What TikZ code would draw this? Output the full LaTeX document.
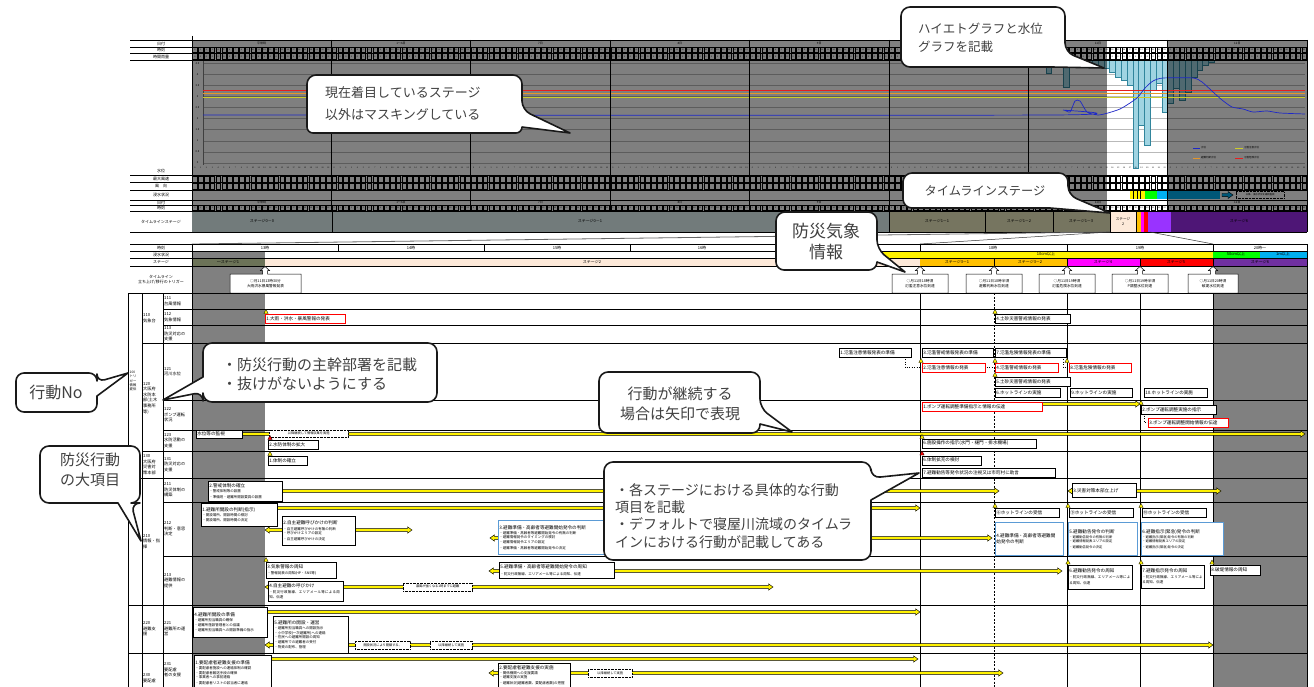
\documentclass[tikz,border=0pt]{standalone}
\usepackage{fontspec}
\setmainfont{Noto Sans CJK JP}
\usetikzlibrary{shadows}
\XeTeXlinebreaklocale "ja"
\XeTeXlinebreakskip=0pt plus 1pt
\definecolor{txt}{RGB}{64,64,64}
\definecolor{mgray}{RGB}{128,128,128}
\definecolor{stz}{RGB}{114,123,123}
\definecolor{sto}{RGB}{118,117,96}
\definecolor{peach}{RGB}{253,233,217}
\definecolor{sorange}{RGB}{255,192,0}
\definecolor{smag}{RGB}{255,0,255}
\definecolor{sred}{RGB}{255,0,0}
\definecolor{spurple}{RGB}{112,48,160}
\definecolor{sviolet}{RGB}{153,51,255}
\definecolor{sdark}{RGB}{78,22,118}
\definecolor{olive1}{RGB}{108,115,88}
\definecolor{scyan}{RGB}{0,176,240}
\definecolor{sgreen}{RGB}{0,255,0}
\definecolor{barfill}{RGB}{160,212,226}
\definecolor{barline}{RGB}{49,133,156}
\definecolor{bbord}{RGB}{91,155,213}
\definecolor{wlev}{RGB}{30,40,200}
\definecolor{lred}{RGB}{230,30,30}
\definecolor{lorange}{RGB}{230,150,40}
\definecolor{lyellow}{RGB}{205,205,40}
\newcommand{\fsz}[2]{\fontsize{#1}{#2}\selectfont}
\newcommand{\tri}[3]{\filldraw[fill=#3,draw=black,line width=0.3pt] (#1-2.2,#2) -- (#1+2.2,#2) -- (#1,#2-4) -- cycle;}
\newcommand{\yar}[3]{\filldraw[fill=yellow,draw=black,line width=0.45pt] (#1,#3-1.3) -- (#2-4.5,#3-1.3) -- (#2-4.5,#3-3.2) -- (#2,#3) -- (#2-4.5,#3+3.2) -- (#2-4.5,#3+1.3) -- (#1,#3+1.3) -- cycle;}
\newcommand{\ydar}[3]{\filldraw[fill=yellow,draw=black,line width=0.45pt] (#1,#3) -- (#1+4.5,#3-3.2) -- (#1+4.5,#3-1.3) -- (#2-4.5,#3-1.3) -- (#2-4.5,#3-3.2) -- (#2,#3) -- (#2-4.5,#3+3.2) -- (#2-4.5,#3+1.3) -- (#1+4.5,#3+1.3) -- (#1+4.5,#3+3.2) -- cycle;}
\newcommand{\actbox}[7][]{\pgfmathsetmacro{\abtw}{#5-2}\node[abox,#1,text width=\abtw pt,minimum height=#6pt] (#2) at (#3,#4) {#7};}
\newcommand{\dbx}[6]{\node[dbox,minimum width=#4pt,minimum height=#5pt] (#1) at (#2,#3) {#6};}
\newcommand{\trg}[6]{\draw[trig] (#2,274) -- (#4-2.5,274) -- (#4-2.5,270.5) -- (#4-4.5,270.5) -- (#4,266.5) -- (#4+4.5,270.5) -- (#4+2.5,270.5) -- (#4+2.5,274) -- (#3,274) -- (#3,293) -- (#2,293) -- cycle;
\node[font=\fsz{3.7}{5},align=center,inner sep=0pt] (#1) at ({(#2+#3)/2},283.5) {#5\\#6};}
\tikzset{
 abox/.style={draw=black,fill=white,line width=0.5pt,anchor=north west,align=left,inner xsep=1pt,inner ysep=0.5pt,font=\fsz{4.6}{5.6},text=black,drop shadow={shadow xshift=0.6pt,shadow yshift=-0.6pt,fill=black!50,opacity=1}},
 rbox/.style={draw=red,line width=0.6pt},
 blbox/.style={draw=bbord,line width=0.8pt},
 dbox/.style={draw=black,dash pattern=on 0.8pt off 0.6pt,fill=white,line width=0.4pt,anchor=north west,inner sep=0.5pt,font=\fsz{3.2}{3.6}},
 lab/.style={anchor=west,align=left,inner sep=0pt,font=\fsz{4.2}{5.6},text=black},
 hl/.style={font=\fsz{4}{4.6},inner sep=0pt,text=black},
 dig/.style={font=\fsz{2}{2},inner sep=0pt,text=black},
 callout/.style={draw=black!90,fill=white,line width=1.6pt,line join=round},
 ctext/.style={text=txt,align=left,inner sep=0pt},
 trig/.style={draw=black,fill=white,line width=0.5pt},
}
\begin{document}
\begin{tikzpicture}[x=1pt,y=-1pt]
\useasboundingbox (0,0) rectangle (1314,687);
\fill[white] (0,0) rectangle (1314,687);
% ================= upper chart =================
\fill[white] (192,40) rectangle (1307,211);
\foreach \k in {0,...,9} \draw[gray!55,line width=0.5pt] (203,163-\k*11.1) -- (1305,163-\k*11.1);
\draw[gray,line width=0.4pt] (203,60) -- (203,165);
\foreach \k/\v in {0/0,1/0.5,2/1,3/1.5,4/2,5/2.5,6/3,7/3.5,8/4,9/4.5} \node[dig,font=\fsz{2.6}{3}] at (197.5,163-\k*11.1) {\v};
% hyetograph bars
\foreach \h/\b in {3/73,5/65,6/87,7/62,9/62,10/63,11/65,12/67,13/68,14/72,15/77,16/80,17/85,18/168,19/125,20/145,21/90,22/83,23/112}
  \filldraw[fill=barfill,draw=barline,line width=0.3pt] (1028.25+\h*5.807,60) rectangle ++(5.807,\b-60);
\foreach \h/\b in {0/103,1/88,2/100,3/92,4/77,5/70,6/65,7/62}
  \filldraw[fill=barfill,draw=barline,line width=0.3pt] (1167.63+\h*5.807,60) rectangle ++(5.807,\b-60);
% header cells
\foreach \i in {0,...,191}{
  \pgfmathsetmacro{\xa}{192+\i*5.80729}
  \pgfmathtruncatemacro{\hh}{mod(\i,24)}
  \draw[line width=0.25pt] (\xa+0.6,47.6) rectangle (\xa+5.2,52.6);
  \node[dig] at (\xa+2.9,50.1) {\hh};
  \draw[line width=0.25pt] (\xa+0.6,53.6) rectangle (\xa+5.2,59.4);
  \node[dig] at (\xa+2.9,56.5) {0};
  \draw[line width=0.25pt] (\xa+0.6,175.8) rectangle (\xa+5.2,182);
  \draw[line width=0.25pt] (\xa+0.6,183.2) rectangle (\xa+5.2,189.4);
  \draw[line width=0.25pt] (\xa+0.6,205.6) rectangle (\xa+5.2,210.5);
  \node[dig] at (\xa+2.9,208) {\hh};
  \node[dig] at (\xa+2.9,168) {\hh};
}
\foreach \d/\t in {0/平常時,1/1〜6日,2/7日,3/8日,4/9日,5/10日,6/11日,7/12日}{
  \node[dig,font=\fsz{3}{3}] at (192+\d*139.375+69.7,43.5) {\t};
  \node[dig,font=\fsz{3}{3}] at (192+\d*139.375+69.7,202.5) {\t};
}
% flood status row (top)
\fill[yellow] (1130,190.5) rectangle (1145,199.5);
\foreach \xs in {1133.5,1137,1140.5} \draw[line width=0.3pt] (\xs,190.5) -- (\xs,199.5);
\fill[sgreen] (1145,190.5) rectangle (1157,199.5);
\fill[scyan] (1157,190.5) rectangle (1220,199.5);
\draw[fill=scyan,line width=0.4pt] (1222,193.3) -- (1228,193.3) -- (1228,191.5) -- (1233,195) -- (1228,198.5) -- (1228,196.7) -- (1222,196.7) -- cycle;
\dbx{dtop}{1236}{191.5}{48}{6.5}{\fsz{2.4}{2.6}以降、浸水状況を継続監視}
% mask
\fill[black,opacity=0.5] (192,40) rectangle (1107,211);
\fill[black,opacity=0.5] (1168,40) rectangle (1307,211);
% level lines
\draw[lred,line width=0.7pt] (203,90) -- (1305,90);
\draw[lorange,line width=0.7pt] (203,93) -- (1305,93);
\draw[lyellow,line width=0.7pt] (203,97) -- (1305,97);
\draw[wlev,line width=0.7pt] plot[smooth,tension=0.4] coordinates {(203,115) (1052,115) (1063,110) (1070,112) (1075,101) (1080,101) (1087,112) (1098,115) (1108,113) (1120,109) (1130,103) (1138,97) (1145,88) (1153,81) (1163,78) (1193,78) (1202,82) (1213,92) (1222,100) (1232,107) (1243,109) (1253,112) (1267,111) (1280,113) (1305,114)};
% legend
\draw[wlev,line width=0.6pt] (1193,148) -- (1200,148); \node[dig,font=\fsz{2.5}{3},anchor=west] at (1201,148) {水位};
\draw[lyellow,line width=0.6pt] (1235,148) -- (1243,148); \node[dig,font=\fsz{2.5}{3},anchor=west] at (1244,148) {氾濫注意水位};
\draw[lorange,line width=0.6pt] (1193,158) -- (1200,158); \node[dig,font=\fsz{2.5}{3},anchor=west] at (1201,158) {避難判断水位};
\draw[lred,line width=0.6pt] (1235,158) -- (1243,158); \node[dig,font=\fsz{2.5}{3},anchor=west] at (1244,158) {氾濫危険水位};
% day lines and row lines
\foreach \d in {1,...,7} \draw[line width=0.6pt] (192+\d*139.375,40) -- (192+\d*139.375,211);
\foreach \yy in {40,47,53,60,175,182.5,190,200,205,211,232} \draw[line width=0.6pt] (130,\yy) -- (1307,\yy);
\draw[line width=0.6pt] (192,36) -- (192,232);
\draw[line width=0.6pt] (1307,40) -- (1307,232);
% left labels upper
\node[hl] at (161,43.5) {日付};
\node[hl] at (161,50) {時刻};
\node[hl] at (161,56.5) {時間雨量};
\node[hl] at (161,171) {水位};
\node[hl] at (161,178.7) {最大風速};
\node[hl] at (161,186.2) {風　向};
\node[hl] at (161,195) {浸水状況};
\node[hl] at (161,202.5) {日付};
\node[hl] at (161,208) {時刻};
\node[hl] at (161,221.5) {タイムラインステージ};
% timeline stage row
\fill[stz] (192,211.3) rectangle (889,232);
\fill[sto] (889,211.3) rectangle (1110,232);
\fill[peach] (1110,211.3) rectangle (1136,232);
\fill[sorange] (1136,211.3) rectangle (1141,232);
\fill[smag] (1141,211.3) rectangle (1144,232);
\fill[sred] (1144,211.3) rectangle (1148,232);
\fill[sviolet] (1148,211.3) rectangle (1171,232);
\fill[sdark] (1171,211.3) rectangle (1307,232);
\foreach \xs in {332,889,985,1053,1110,1136} \draw[line width=0.5pt] (\xs,211) -- (\xs,232);
\draw[line width=0.6pt] (130,211) -- (1307,211) (130,232) -- (1307,232);
\node[hl] at (262,221.5) {ステージ0－0};
\node[hl] at (590,221.5) {ステージ0－1};
\node[hl] at (937,221.5) {ステージ1－1};
\node[hl] at (1019,221.5) {ステージ1－2};
\node[hl] at (1081,221.5) {ステージ1－3};
\node[hl,align=center,font=\fsz{3.6}{4.4}] at (1123,221.5) {ステージ\\2};
\node[hl] at (1239,221.5) {ステージ6};
% zoom lines
\draw[black!60,line width=0.8pt] (1110,232) -- (192,244);
\draw[black!80,line width=0.5pt] (1110,232) -- (920,244);
\draw[black!80,line width=0.5pt] (1150,232) -- (1213,244);
% ================= lower header =================
\fill[mgray] (192,251) rectangle (265,258);
\fill[yellow] (880,251) rectangle (1213,258);
\fill[sgreen] (1213,251) rectangle (1260,258);
\fill[scyan] (1260,251) rectangle (1307,258);
\fill[olive1] (192,258) rectangle (265,266);
\fill[peach] (265,258) rectangle (920,266);
\fill[sorange] (920,258) rectangle (1067,266);
\fill[smag] (1067,258) rectangle (1140,266);
\fill[sred] (1140,258) rectangle (1213,266);
\fill[spurple] (1213,258) rectangle (1307,266);
\fill[mgray] (192,266) rectangle (265,687);
\fill[mgray] (1213,266) rectangle (1307,687);
\foreach \yy in {244,251,258,266} \draw[line width=0.6pt] (130,\yy) -- (1307,\yy);
\foreach \xs in {338,484,630,775,920,1067,1213} \draw[line width=0.5pt] (\xs,244) -- (\xs,251);
\foreach \xs in {994,1067,1140,1213} \draw[line width=0.4pt] (\xs,258) -- (\xs,266);
\draw[line width=0.6pt] (192,244) -- (192,687);
\draw[line width=0.6pt] (1307,244) -- (1307,687);
\node[hl] at (161,247.5) {時刻};
\node[hl] at (161,254.5) {浸水状況};
\node[hl] at (161,262) {ステージ};
\node[hl,align=center] at (161,279.5) {タイムライン\\立ち上げ/移行のトリガー};
\node[hl] at (265,247.5) {13時};
\node[hl] at (411,247.5) {14時};
\node[hl] at (557,247.5) {15時};
\node[hl] at (702,247.5) {16時};
\node[hl] at (848,247.5) {17時};
\node[hl] at (993,247.5) {18時};
\node[hl] at (1140,247.5) {19時};
\node[hl] at (1260,247.5) {20時〜};
\node[hl] at (1046,254.5) {10cm以上};
\node[hl] at (1236,254.5) {50cm以上};
\node[hl] at (1283,254.5) {1m以上};
\node[hl] at (228,262) {〜ステージ1};
\node[hl] at (592,262) {ステージ2};
\node[hl] at (957,262) {ステージ3－1};
\node[hl] at (1030,262) {ステージ3－2};
\node[hl] at (1103,262) {ステージ4};
\node[hl] at (1176,262) {ステージ5};
\node[hl] at (1260,262) {ステージ6};
% triggers
\trg{tg1}{230}{301}{265}{○月11日13時30分}{大雨洪水暴風警報発表}
\trg{tg2}{892}{948}{920}{○月11日18時頃}{氾濫注意水位到達}
\trg{tg3}{966}{1022}{994}{○月11日18時半頃}{避難判断水位到達}
\trg{tg4}{1039}{1095}{1067}{○月11日19時頃}{氾濫危険水位到達}
\trg{tg5}{1112}{1168}{1140}{○月11日19時半頃}{P調整水位到達}
\trg{tg6}{1188}{1238}{1213}{○月11日20時頃}{破堤水位到達}
% ================= lower table lines =================
\draw[line width=0.7pt] (128,293) -- (1307,293);
\foreach \yy in {309,325,400,430,502,556} \draw[line width=0.7pt] (163,\yy) -- (1307,\yy);
\foreach \yy in {343,451} \draw[line width=0.7pt] (142,\yy) -- (1307,\yy);
\foreach \yy in {478,605,653} \draw[line width=0.7pt] (128,\yy) -- (1307,\yy);
\foreach \xs in {128,142,163} \draw[line width=0.7pt] (\xs,293) -- (\xs,687);
\foreach \xs in {920,1067,1140,1213} \draw[line width=0.6pt] (\xs,293) -- (\xs,687);
\draw[line width=0.4pt,dash pattern=on 2pt off 1.5pt] (994,293) -- (994,687);
% row labels
\node[lab,font=\fsz{3.3}{4.2}] at (129.5,381) {100\\トリ\\ガー\\情報\\提供};
\node[lab] at (143,318) {110\\気象台};
\node[lab] at (143,398) {120\\大阪府\\水防本\\部(土木\\事務所\\等)};
\node[lab] at (143,464.5) {130\\大阪府\\災害対\\策本部};
\node[lab] at (143,541.5) {210\\情報・指\\揮};
\node[lab] at (143,629) {220\\避難支\\援};
\node[lab] at (143,678) {230\\要配慮};
\node[lab] at (164,301) {111\\台風情報};
\node[lab] at (164,317) {112\\気象情報};
\node[lab] at (164,334) {113\\防災対応の\\支援};
\node[lab] at (164,371.5) {121\\河川水位};
\node[lab] at (164,415) {122\\ポンプ運転\\状況};
\node[lab] at (164,440.5) {123\\水防活動の\\支援};
\node[lab] at (164,464.5) {131\\防災対応の\\支援};
\node[lab] at (164,490) {211\\防災体制の\\構築};
\node[lab] at (164,529) {212\\判断・意思\\決定};
\node[lab] at (164,580.5) {213\\避難情報の\\提供};
\node[lab] at (164,629) {221\\避難所の運\\営};
\node[lab] at (164,670) {231\\要配慮\\者の支援};
% ================= actions =================
% 112
\tri{266}{313.5}{yellow}
\actbox[rbox]{a112a}{265}{314}{80}{9}{1.大雨・洪水・暴風警報の発表}
\tri{995}{313.5}{yellow}
\actbox{a112b}{995}{314}{75}{9}{4.土砂災害警戒情報の発表}
% 121
\draw[dotted,line width=0.5pt] (905,356.5) -- (905,367.5) -- (922,367.5);
\draw[dotted,line width=0.5pt] (984,367.5) -- (995,367.5);
\draw[dotted,line width=0.5pt] (1063,356.5) -- (1063,367.5) -- (1069,367.5);
\actbox{a121a}{839}{348}{72}{8.5}{1.氾濫注意情報発表の準備}
\actbox{a121c}{922}{348}{71}{8.5}{3.氾濫警戒情報発表の準備}
\actbox{a121g}{995}{348}{71}{8.5}{7.氾濫危険情報発表の準備}
\tri{921}{362.5}{yellow}
\tri{995}{362.5}{yellow}
\tri{1067}{362.5}{yellow}
\actbox[rbox]{a121b}{922}{363}{63}{9}{2.氾濫注意情報の発表}
\actbox[rbox]{a121d}{995}{363}{63}{9}{4.氾濫警戒情報の発表}
\actbox[rbox]{a121h}{1069}{363}{62}{9}{8.氾濫危険情報の発表}
\tri{995}{376.5}{yellow}
\actbox{a121e}{995}{377}{75}{8.5}{5.土砂災害警戒情報の発表}
\actbox{a121f}{995}{388}{65}{8.5}{6.ホットラインの実施}
\actbox{a121i}{1070}{388}{62}{8.5}{9.ホットラインの実施}
\actbox{a121j}{1144}{388}{63}{8.5}{10.ホットラインの実施}
% 122
\yar{1042}{1140}{404}
\draw[dotted,line width=0.5pt] (1144,413) -- (1144,422) -- (1148,422);
\actbox[rbox]{a122a}{922}{402}{120}{9}{1.ポンプ運転調整準備指示と情報の伝達}
\tri{1141}{404.5}{yellow}
\actbox{a122b}{1141}{405}{75}{8.5}{2.ポンプ運転調整実施の指示}
\actbox[rbox]{a122c}{1148}{417.5}{80}{9}{3.ポンプ運転調整開始情報の伝達}
% 123
\yar{242}{1305}{434}
\actbox{a123a}{196}{429.5}{46}{8.5}{水位等の監視}
\dbx{d123}{269}{430}{79}{7}{以降継続して情報収集を実施}
\tri{270}{439.5}{red}
\actbox{a123b}{268}{440}{50}{8.5}{2.水防体制の拡大}
\tri{922}{438.5}{yellow}
\actbox{a123c}{922}{439}{114}{8.5}{6.施設操作の指示(水門・樋門・排水機場)}
% 131
\tri{270}{455.5}{yellow}
\actbox{a131a}{268}{456}{39}{8.5}{1.体制の確立}
\tri{922}{455}{red}
\actbox{a131b}{922}{455.5}{59}{9}{6.体制拡充の検討}
\actbox{a131c}{922}{468}{133}{8.5}{7.避難勧告等発令状況の注視又は市町村に助言}
% 211
\yar{282}{999}{491}
\actbox{a211a}{208}{481}{74}{20}{2.警戒体制の確立\\[0.6pt]\fsz{3.5}{4.5}・警戒体制等の設置\\・準備班・避難所開設要員の設置}
\ydar{1068}{1221}{491}
\actbox{a211b}{1072}{483}{64}{14}{3.災害対策本部立上げ}
% 212
\yar{277}{920}{508}
\ydar{265}{412}{530}
\ydar{490}{992}{538}
\actbox{a212a}{201}{503}{76}{23}{1.避難所開設の判断(指示)\\[0.6pt]\fsz{3.5}{4.5}・開設場所、開設時間の検討\\・開設場所、開設時間の決定}
\actbox{a212b}{282}{516}{73}{29}{2.自主避難呼びかけの判断\\[0.6pt]\fsz{3.5}{4.5}・自主避難呼びかけの有無の判断\\・呼びかけエリアの設定\\・自主避難呼びかけの決定}
\actbox[blbox]{a212c}{498}{520}{110}{34}{3.避難準備・高齢者等避難開始発令の判断\\[0.6pt]\fsz{3.5}{4.5}・避難準備・高齢者等避難開始発令の有無の判断\\・避難情報発令のタイミングの検討\\・避難情報発令エリアの設定\\・避難準備・高齢者等避難開始発令の決定}
\tri{995}{507.5}{yellow}
\tri{1068}{507.5}{yellow}
\tri{1141}{507.5}{yellow}
\actbox{a212d}{995}{508}{64}{9}{⑥ホットラインの受信}
\actbox{a212e}{1069}{508}{64}{9}{⑨ホットラインの受信}
\actbox{a212f}{1142}{508}{64}{9}{⑩ホットラインの受信}
\actbox[blbox]{a212g}{995}{522}{68}{33}{4.避難準備・高齢者等避難開\\始発令の判断}
\actbox[blbox]{a212h}{1068}{522}{69}{33}{5.避難勧告発令の判断\\[0.6pt]\fsz{3.3}{4.4}・避難勧告発令の有無の判断\\・避難情報発表エリアの設定\\・避難勧告発令の決定}
\actbox[blbox]{a212i}{1141}{522}{82}{33}{6.避難指示(緊急)発令の判断\\[0.6pt]\fsz{3.3}{4.4}・避難指示(緊急)発令の有無の判断\\・避難情報発表エリアの設定\\・避難指示(緊急)発令の決定}
% 213
\ydar{265}{773}{587}
\ydar{489}{1062}{571}
\tri{266}{561.5}{yellow}
\actbox{a213a}{266}{562}{70}{16}{3.気象警報の周知\\[0.6pt]\fsz{3.5}{4.5}・警報発表の周知(HP・SNS等)}
\actbox{a213b}{268}{581}{75}{20}{4.自主避難の呼びかけ\\[0.6pt]\fsz{3.5}{4.5}・防災行政無線、エリアメール等による周知、伝達}
\dbx{d213}{403}{582.5}{69}{8}{暴風が強くなる1時までに避難}
\actbox{a213c}{499}{562}{115}{16}{5.避難準備・高齢者等避難開始発令の周知\\[0.6pt]\fsz{3.5}{4.5}・防災行政無線、エリアメール等による周知、伝達}
\tri{1068}{564}{yellow}
\tri{1141}{564}{yellow}
\tri{1212}{564}{yellow}
\actbox{a213d}{1068}{564.5}{64}{24}{6.避難勧告発令の周知\\[0.6pt]\fsz{3.5}{4.5}・防災行政無線、エリアメール等による周知、伝達}
\actbox{a213e}{1141}{564.5}{63}{23}{7.避難指示発令の周知\\[0.6pt]\fsz{3.5}{4.5}・防災行政無線、エリアメール等による周知、伝達}
\actbox{a213f}{1210}{564.5}{50}{10}{8.破堤情報の周知}
% 221
\yar{267}{920}{612}
\ydar{265}{1213}{645}
\actbox{a221a}{193}{607}{74}{30}{4.避難所開設の準備\\[0.6pt]\fsz{3.5}{4.5}・避難所担当職員の確保\\・避難所施設管理者との協議\\・避難所担当職員への開設準備の指示}
\actbox{a221b}{273}{616}{75}{37}{5.避難所の開設・運営\\[0.6pt]\fsz{3.5}{4.5}・避難所担当職員への開設指示\\・小中学校(一次避難所)への連絡\\・住民への避難所開設の周知\\・避難所での避難者の受付\\・物資の配布、管理}
\dbx{d221a}{355}{641}{55}{8}{開設状況により閉鎖する。}
\dbx{d221b}{430}{641}{42}{8}{以降継続して実施}
% 231
\yar{271}{918}{659}
\ydar{489}{1003}{673}
\actbox{a231a}{194}{655}{77}{35}{1.要配慮者避難支援の準備\\[0.6pt]\fsz{3.5}{4.5}・要配慮者施設への連絡体制の確認\\・要配慮者輸送手段の確保\\・事業者への事前連絡\\・要配慮者リストの該当者に連絡}
\actbox{a231b}{498}{663}{72}{24}{2.要配慮者避難支援の実施\\[0.6pt]\fsz{3.5}{4.5}・関係機関への支援要請\\・避難支援の実施\\・避難状況(避難者数、要配慮者数)の把握}
\dbx{d231}{588}{669}{44}{8}{以降継続して実施}
% ================= callouts =================
\draw[callout] (307,104) [rounded corners=9pt] -- (307,75) -- (522,75) -- (522,110) [sharp corners] -- (570,133) -- (522,127) [rounded corners=6pt] -- (522,133) -- (307,133) -- cycle;
\node[ctext,anchor=west,font=\fsz{13}{22}] (c1) at (325,104) {現在着目しているステージ\\以外はマスキングしている};
\draw[callout] (901,37) [rounded corners=9pt] -- (901,7) -- (1065,7) -- (1065,52) [sharp corners] -- (1104,68) -- (1052,67) [rounded corners=9pt] -- (901,67) -- cycle;
\node[ctext,anchor=west,font=\fsz{12.5}{18.5}] (c2) at (918,38) {ハイエトグラフと水位\\グラフを記載};
\draw[callout] (903,190) [rounded corners=9pt] -- (903,173) -- (1068,173) -- (1068,195) [sharp corners] -- (1110,213) -- (1050,208) [rounded corners=9pt] -- (903,208) -- cycle;
\node[ctext,font=\fsz{12.2}{14}] (c3) at (985,190.5) {タイムラインステージ};
\draw[callout] (776,241) [rounded corners=9pt] -- (776,212) -- (877,212) -- (877,249) [sharp corners] -- (905,272) -- (877,262) [rounded corners=8pt] -- (877,270) -- (776,270) -- cycle;
\node[ctext,align=center,font=\fsz{17}{21}] (c4) at (826,242) {防災気象\\情報};
\draw[callout] (16,392) [rounded corners=8pt] -- (16,373) -- (97,373) -- (97,382) [sharp corners] -- (128,373) -- (97,396) [rounded corners=8pt] -- (97,412) -- (16,412) -- cycle;
\node[ctext,font=\fsz{16}{18}] (c5) at (56,392.5) {行動No};
\draw[callout] (40,475) [rounded corners=9pt] -- (40,446) -- (140,446) -- (140,503) -- (131,503) [sharp corners] -- (141,541) -- (118,503) [rounded corners=9pt] -- (40,503) -- cycle;
\node[ctext,align=center,font=\fsz{15}{20}] (c6) at (90,470) {防災行動\\の大項目};
\draw[callout] (320,343) [rounded corners=9pt] -- (437,343) -- (437,402) -- (203,402) -- (203,392) [sharp corners] -- (163,400) -- (203,377) [rounded corners=9pt] -- (203,343) -- cycle;
\node[ctext,anchor=west,font=\fsz{15}{19}] (c7) at (222,374) {・防災行動の主幹部署を記載\\・抜けがないようにする};
\draw[callout] (599,400) [rounded corners=9pt] -- (599,372) -- (760,372) -- (760,408) [sharp corners] -- (792,432) -- (760,424) [rounded corners=8pt] -- (760,433) -- (599,433) -- cycle;
\node[ctext,align=center,font=\fsz{15}{20}] (c8) at (680,404) {行動が継続する\\場合は矢印で表現};
\draw[callout] (604,510) [rounded corners=9pt] -- (604,462) -- (871,462) -- (871,478) [sharp corners] -- (919,473) -- (871,500) [rounded corners=9pt] -- (871,560) -- (604,560) -- cycle;
\node[ctext,anchor=west,font=\fsz{14}{17.3}] (c9) at (615,516) {・各ステージにおける具体的な行動\\項目を記載\\・デフォルトで寝屋川流域のタイムラ\\インにおける行動が記載してある};
\end{tikzpicture}
\end{document}
